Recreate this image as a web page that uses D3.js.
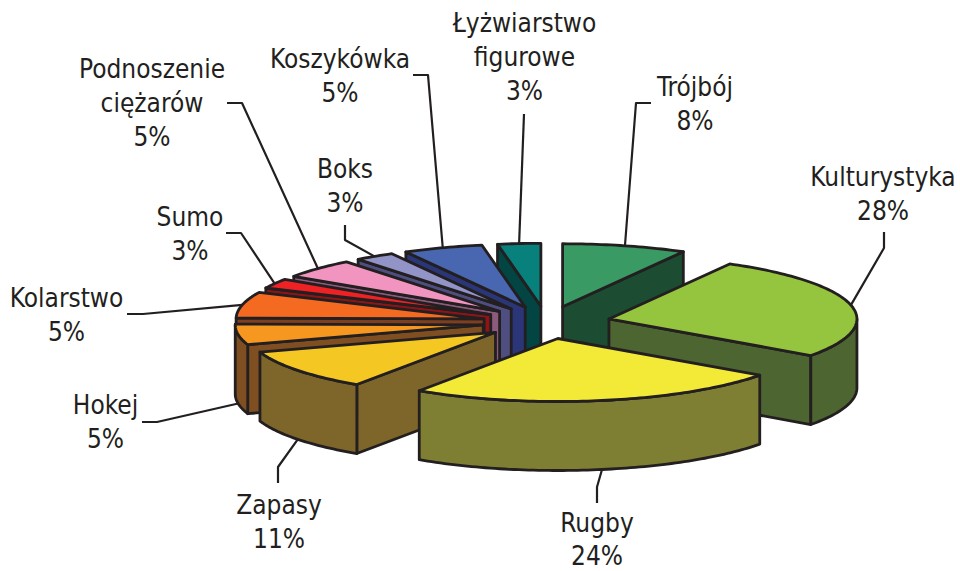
<!DOCTYPE html>
<html lang="pl">
<head>
<meta charset="utf-8">
<title>Sporty</title>
<script src="https://cdn.jsdelivr.net/npm/d3@7/dist/d3.min.js"></script>
<style>
html,body{margin:0;padding:0;background:#fff;}
svg{display:block;}
text{font-family:"DejaVu Sans Condensed","DejaVu Sans",sans-serif;font-stretch:condensed;font-size:26px;fill:#231f20;text-anchor:middle;}
</style>
</head>
<body>
<svg id="chart" width="960" height="571"></svg>
<script>
// Categories, drawn clockwise from 12 o'clock
const categories = ["Trójbój","Kulturystyka","Rugby","Zapasy","Hokej","Kolarstwo","Sumo","Podnoszenie ciężarów","Boks","Koszykówka","Łyżwiarstwo figurowe"];
// Slice shares
const shares = [8.1,26.8,24.6,10.5,5.3,6.7,2.5,5.0,2.6,5.2,2.8];
// Percentages as printed in the labels
const printedPercent = [8,28,24,11,5,5,3,5,3,5,3];
// Label line breaks
const labelLines = [["Trójbój"],["Kulturystyka"],["Rugby"],["Zapasy"],["Hokej"],["Kolarstwo"],["Sumo"],["Podnoszenie","ciężarów"],["Boks"],["Koszykówka"],["Łyżwiarstwo","figurowe"]];
const topColors  = ["#3a9a63","#95c43f","#f2ea37","#f4c722","#f6971f","#f56a21","#ee2224","#f195c0","#9294c8","#4967b0","#08807c"];
const wallColors = ["#1c4d33","#4d6530","#7f7f34","#7e662a","#7f4f21","#7d3f1f","#8e1418","#8b5a7c","#4f4e80","#2a3677","#024542"];

// Label layout: centre x, first baseline
const labelPos = [[695,96],[883,186],[597,531.5],[279,514],[105.5,414],[66.5,307],[190,226],[152,78],[345,178],[340,68],[524.5,32]];
// Leader-line elbows, from the slice outward
const leaderElbows = [[[636,103],[651,103]],[[884,248],[884,232]],[[597,487],[597,503]],[[278,467],[278,483]],[[157,422],[142,422]],[[143,314],[127,314]],[[241,233],[226,233]],[[242,103],[227,103]],[[345,240],[345,225]],[[428,75],[413,75]],[[524,114]]];

const cx = 546.5, cy = 322.5, rx = 248, ry = 63, depth = 69, explode = 64, lineH = 33.8;
const ink = "#231f20";
const svg = d3.select("#chart");

const pie = d3.pie().sort(null).value(d => d).startAngle(0).endAngle(2*Math.PI);
const arcs = pie(shares).map((a,i) => ({...a, i, mid:(a.startAngle+a.endAngle)/2}));

const ex = explode, ey = explode*ry/rx;
const apex = a => [cx + ex*Math.sin(a.mid), cy - ey*Math.cos(a.mid)];
const rim = (a,t) => { const p = apex(a); return [p[0]+rx*Math.sin(t), p[1]-ry*Math.cos(t)]; };
const down = p => [p[0], p[1]+depth];
const line = d3.line();
const closed = pts => line(pts)+"Z";
const samples = (t0,t1) => { const n = Math.max(2,Math.ceil((t1-t0)/0.02)); return d3.range(n+1).map(k => t0+(t1-t0)*k/n); };

// back-to-front order
const order = arcs.slice().sort((p,q) => d3.ascending(-Math.cos(p.mid), -Math.cos(q.mid)));
const PI = Math.PI;

const slices = svg.append("g").selectAll("g").data(order).join("g")
  .attr("stroke",ink).attr("stroke-width",2.8).attr("stroke-linejoin","round");

slices.each(function(a){
  const g = d3.select(this), wall = wallColors[a.i], P = apex(a);
  // side walls
  if (a.startAngle > PI) {
    const e = rim(a,a.startAngle);
    g.append("path").attr("d",closed([P,e,down(e),down(P)])).attr("fill",wall);
  }
  if (a.endAngle < PI) {
    const e = rim(a,a.endAngle);
    g.append("path").attr("d",closed([P,e,down(e),down(P)])).attr("fill",wall);
  }
  // outer wall
  const t0 = Math.max(a.startAngle,PI/2), t1 = Math.min(a.endAngle,3*PI/2);
  if (t1 > t0) {
    const top = samples(t0,t1).map(t => rim(a,t));
    g.append("path").attr("d",closed(top.concat(top.map(down).reverse()))).attr("fill",wall);
  }
  // top face
  const rimPts = samples(a.startAngle,a.endAngle).map(t => rim(a,t));
  g.append("path").attr("d",closed([P].concat(rimPts))).attr("fill",topColors[a.i]);
});

// leader lines
svg.append("g").selectAll("path").data(arcs).join("path")
  .attr("fill","none").attr("stroke",ink).attr("stroke-width",2.2).attr("stroke-linejoin","round")
  .attr("d",a => {
    let s = rim(a,a.mid);
    if (a.mid > PI/2 && a.mid < 3*PI/2) s = down(s);
    return line([s].concat(leaderElbows[a.i]));
  });

// labels
svg.append("g").selectAll("text").data(arcs).join("text")
  .attr("x",a => labelPos[a.i][0]).attr("y",a => labelPos[a.i][1])
  .each(function(a){
    const t = d3.select(this), rows = labelLines[a.i].concat([printedPercent[a.i]+"%"]);
    rows.forEach((r,k) => t.append("tspan").attr("x",labelPos[a.i][0]).attr("y",labelPos[a.i][1]+k*lineH).text(r));
  });
</script>
</body>
</html>
